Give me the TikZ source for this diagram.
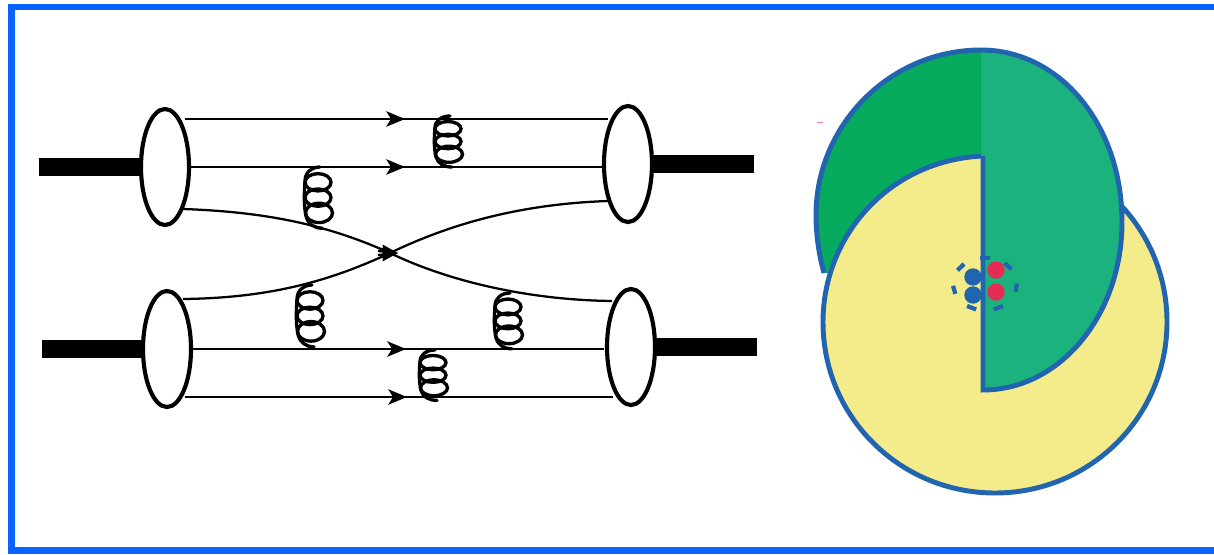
\documentclass[tikz,border=0pt]{standalone}
\usepackage{tikz}
\usetikzlibrary{positioning,arrows.meta,shapes.geometric}
\definecolor{framecolor}{RGB}{8,99,255}
\definecolor{edgeblue}{RGB}{33,100,175}
\definecolor{darkgreen}{RGB}{7,171,94}
\definecolor{lightgreen}{RGB}{28,178,126}
\definecolor{paleyellow}{RGB}{244,236,138}
\definecolor{dotred}{RGB}{230,43,85}
\tikzset{
  proton/.style={ellipse,draw,fill=white,line width=3.1pt,minimum width=36pt,minimum height=87pt,inner sep=0pt},
  beam/.style={line width=13.5pt},
  quark/.style={line width=1.7pt},
  quarktip/.style={line width=1.7pt,-{Stealth[length=14pt,width=11.5pt,inset=3.5pt]}},
  crosstip/.style={line width=1.7pt,-{Stealth[length=12pt,width=10pt,inset=1pt]}},
  coil/.style={line width=2.5pt,line cap=round},
  edge/.style={edgeblue,line width=3.7pt},
  cutdash/.style={edgeblue,line width=3.2pt}
}
% gluon: top end x, y, then height relative to 60 units
\newcommand{\gluon}[3]{
  \begin{scope}[shift={(#1,#2)},yscale=#3]
    \draw[coil] (0,0) .. controls (-8,0) and (-15,5) .. (-15,14)
      .. controls (-16,28) and (-16,38) .. (-14,48) .. controls (-12,56) and (-6,60) .. (2,60);
    \draw[coil] (-2,15) ellipse [x radius=13,y radius=8.5];
    \draw[coil] (-2,30) ellipse [x radius=13,y radius=8.5];
    \draw[coil] (-1,45) ellipse [x radius=13.5,y radius=9.5];
  \end{scope}
}
\begin{document}
\begin{tikzpicture}[x=.75pt,y=-.75pt]
  \useasboundingbox (0,0) rectangle (1214,554);
  \clip (0,0) rectangle (1214,554);
  \draw[framecolor,line width=5.2pt] (11.5,7) rectangle (1225,550.5);

  % the four protons
  \node[proton] (protonA) at (165,167) {};
  \node[proton] (protonB) at (167,349) {};
  \node[proton] (protonC) at (628,164) {};
  \node[proton] (protonD) at (631,347) {};

  \coordinate (beamA) at (39,167);
  \coordinate (beamB) at (42,349);
  \coordinate (beamC) at (754,164);
  \coordinate (beamD) at (757,347);
  \draw[beam] (beamA) -- (protonA.west);
  \draw[beam] (beamB) -- (protonB.west);
  \draw[beam] (beamC) -- (protonC.east);
  \draw[beam] (beamD) -- (protonD.east);

  % spectator quark lines
  \coordinate (inA) at (185,119);    \coordinate (midA) at (405,119);   \coordinate (outA) at (608,119);
  \coordinate (inB) at (190,167);    \coordinate (midB) at (405,167);   \coordinate (outB) at (602,167);
  \coordinate (inC) at (190,349);    \coordinate (midC) at (406,349);   \coordinate (outC) at (604,349);
  \coordinate (inD) at (185,397);    \coordinate (midD) at (407,397);   \coordinate (outD) at (613,397);
  \foreach \n in {A,B,C,D} {
    \draw[quark] (in\n) -- (out\n);
    \draw[quarktip] (in\n) -- (mid\n);
  }

  % crossing quark lines
  \coordinate (crossL) at (183,209);
  \coordinate (crossR) at (612,301);
  \coordinate (crossU) at (183,299);
  \coordinate (crossV) at (608,201);
  \coordinate (crossM) at (398,253);
  \draw[quark] (crossL) .. controls (270,212) and (330,226) .. (390,253)
    .. controls (450,282) and (530,300) .. (crossR);
  \draw[quark] (crossU) .. controls (270,298) and (330,281) .. (390,253)
    .. controls (450,224) and (520,204) .. (crossV);
  \draw[crosstip] (378,251) -- (crossM);
  \draw[crosstip] (378,255) -- (crossM);

  \gluon{450}{116}{.85}
  \gluon{320}{167}{1.02}
  \gluon{312}{285}{1.03}
  \gluon{510}{293}{.93}
  \gluon{435}{350}{.84}

  % overlapping discs
  \fill[dotred!60] (817,122) -- (823,122) -- (823,122.8) -- (817,122.8) -- cycle;
  \fill[darkgreen] (981,49) .. controls (890,49) and (815,125) .. (815,215)
    .. controls (815,235) and (818,255) .. (824,273) -- (981,273) -- cycle;
  \draw[edge] (981,50) .. controls (890,50) and (816,125) .. (816,215)
    .. controls (816,235) and (819,255) .. (824,273);
  \draw[edge,fill=paleyellow] (983,156) .. controls (890,160) and (823,235) .. (823,322)
    .. controls (823,417) and (900,493) .. (995,493)
    .. controls (1090,493) and (1167,417) .. (1167,322)
    .. controls (1167,227) and (1090,151) .. (995,151) -- cycle;
  \fill[lightgreen] (981,49) .. controls (1060,49) and (1122,125) .. (1122,222)
    .. controls (1122,315) and (1060,390) .. (983,390) -- (983,156) -- (981,156) -- cycle;
  \draw[edge] (983,156) -- (983,390)
    .. controls (1060,390) and (1122,315) .. (1122,222)
    .. controls (1122,125) and (1060,50) .. (981,50);

  % quarks inside the small dashed ring
  \foreach \a in {90,43,-8,-65,-115,193,140} {
    \draw[cutdash] ({985+32*cos(\a-9)},{284-26.5*sin(\a-9)}) -- ({985+32*cos(\a+9)},{284-26.5*sin(\a+9)});
  }
  \fill[edgeblue] (973,277) circle (8.7);
  \fill[edgeblue] (973,295) circle (8.7);
  \fill[dotred] (996,270) circle (8.7);
  \fill[dotred] (996,292) circle (8.7);
\end{tikzpicture}
\end{document}
